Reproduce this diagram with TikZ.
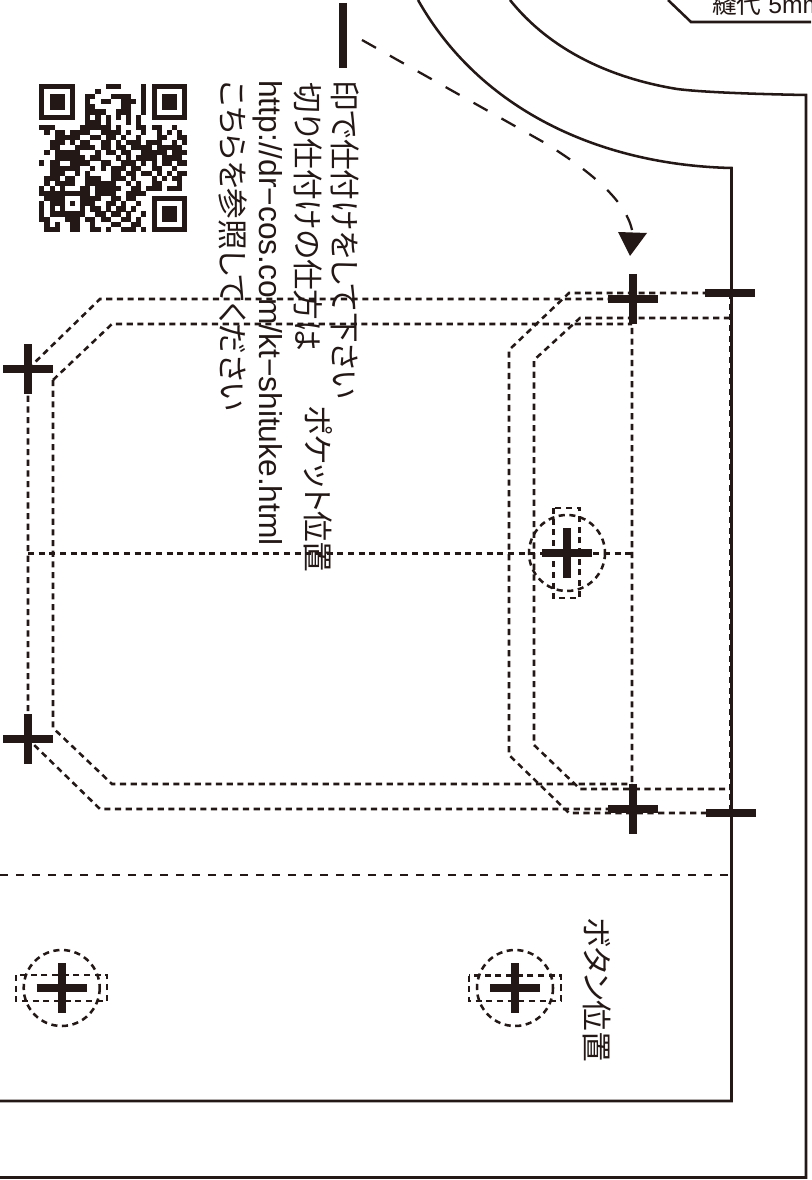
\documentclass[tikz,border=0pt]{standalone}
\usepackage{fontspec}
\setmainfont{Liberation Sans}
\newfontfamily\jpfont[RawFeature=+palt]{Noto Sans CJK JP}
\definecolor{ink}{HTML}{231815}
\newcount\qrc
\newcount\qrr
\def\qrscan#1{\ifx#1.\else\if#11\qrcell\fi\advance\qrc by 1 \expandafter\qrscan\fi}
\def\qrcell{\fill[ink] (39.3+5.1*\the\qrc,84+5.1*\the\qrr) rectangle ++(5.15,5.15);}
\def\qrline#1{\qrc=0 \qrscan#1.\advance\qrr by 1 }
\tikzset{
  solidline/.style={draw=ink,line width=1.9pt},
  shortdash/.style={draw=ink,line width=1.9pt,dash pattern=on 4.6pt off 3.4pt},
  longdash/.style={draw=ink,line width=1.9pt,dash pattern=on 6pt off 6pt},
  arrowdash/.style={draw=ink,line width=1.7pt,dash pattern=on 12pt off 12pt},
  bar/.style={draw=ink,line width=6pt},
  jptext/.style={text=ink,inner sep=0pt,font=\jpfont\fontsize{23}{23}\selectfont,rotate=-90,anchor=west},
}
\newcommand{\crossmark}[2]{%
  \draw[bar] (#1-25,#2) -- (#1+25,#2);
  \draw[bar] (#1,#2-25) -- (#1,#2+25);}
\begin{document}
\begin{tikzpicture}[x=0.75pt,y=-0.75pt]
\useasboundingbox (0,0) rectangle (811,1180);
\clip (0,0) rectangle (811,1180);
\fill[white] (0,0) rectangle (811,1180);
% outlines
\draw[solidline] (510,0) .. controls (550,50) and (610,78) .. (677,89) .. controls (700,92) and (750,94) .. (806,95) -- (806,1177.5) -- (0,1177.5);
\draw[solidline] (418,0) .. controls (480,110) and (600,165) .. (731.5,168) -- (731.5,1101) -- (0,1101);
\draw[solidline] (668,0) -- (691,22) -- (811,22);
% pocket outlines
\draw[shortdash] (28,369) -- (100,299) -- (632,299) -- (632,809) -- (100,809) -- (28,739) -- cycle;
\draw[shortdash] (53,380) -- (112,324) -- (632,324);
\draw[shortdash] (53,380) -- (53,728) -- (112,784) -- (632,784);
\draw[shortdash] (730,293) -- (569,293) -- (509,350) -- (509,755) -- (569,813) -- (730,813);
\draw[shortdash] (730,318) -- (580,318) -- (534,360) -- (534,745) -- (580,789) -- (730,789);
\draw[shortdash] (730,293) -- (730,813);
\draw[shortdash] (28,553.5) -- (632,553.5);
\draw[longdash] (0,875) -- (731,875);
% buttons
\draw[shortdash] (567,553) circle [radius=38];
\draw[shortdash] (553.3,508) rectangle (579.3,598);
\draw[shortdash] (61.7,988) circle [radius=38];
\draw[shortdash] (16,975) rectangle (107,1001);
\draw[shortdash] (515,988) circle [radius=38];
\draw[shortdash] (469,975.5) rectangle (561,1001);
% marks
\crossmark{632.5}{299}
\crossmark{633}{809}
\crossmark{28}{369}
\crossmark{28}{739}
\crossmark{567}{553}
\crossmark{61.7}{988}
\crossmark{515}{988}
\draw[bar] (705,293) -- (755,293);
\draw[bar] (706,813) -- (756,813);
\draw[bar] (343,3) -- (343,68);
% arrow
\coordinate (arrowstart) at (362,40);
\coordinate (arrowbend) at (545,143);
\coordinate (arrowend) at (632,230);
\draw[arrowdash] (arrowstart) -- (arrowbend) .. controls (585,168) and (625,198) .. (arrowend);
\fill[ink] (618,232) -- (647,233) -- (630,256) -- cycle;
% texts
\node[jptext] (t1) at (345,80) {印で仕付けをして下さい};
\node[jptext] (t2) at (308,82) {切り仕付けの仕方は};
\node[jptext,font=\fontsize{23.8}{23.8}\selectfont] (t3) at (268,80) {http://dr−cos.com/kt−shituke.html};
\node[jptext] (t4) at (233,80) {こちらを参照してください};
\node[jptext] (t5) at (318,405) {ポケット位置};
\node[jptext] (t6) at (597,917) {ボタン位置};
\node[text=ink,inner sep=0pt,anchor=base west,font=\fontsize{18.5}{18.5}\selectfont] (t7) at (712,13.5) {{\jpfont 縫代} 5mm};
% QR
\qrr=0
\qrline{1111111 000000111000010 1111111}
\qrline{1000001 000010000000010 1000001}
\qrline{1011101 001100011110010 1011101}
\qrline{1011101 001001100111010 1011101}
\qrline{1011101 001100000110010 1011101}
\qrline{1000001 001111001110010 1000001}
\qrline{1111111 001010101010100 1111111}
\qrline{00000000 0111010001010 00000000}
\qrline{11100000111111010001101100100}
\qrline{01011011110011110100100101010}
\qrline{00011111001101101001000110011}
\qrline{00111010110011010111011100101}
\qrline{00110001111011011011110111110}
\qrline{01011111000101101100111110111}
\qrline{00011111101100010101111011110}
\qrline{10110011110011001110101011011}
\qrline{00111111001010111011001100100}
\qrline{00111001010000110110110101011}
\qrline{01110110011100111010001010110}
\qrline{01011110011111100101001100010}
\qrline{10101000110111110011011101110}
\qrline{1111 11111 101111001111 00000000}
\qrline{0111 10001 111001101100 0 1111111}
\qrline{1011 10101 110011010010 0 1000001}
\qrline{1010 10001 011010110100 0 1011101}
\qrline{1011 11111 001101101001 0 1011101}
\qrline{1100 01110 110110011010 0 1011101}
\qrline{0101 00110 010001100110 0 1000001}
\qrline{0111 00110 011010011101 0 1111111}
\end{tikzpicture}
\end{document}
